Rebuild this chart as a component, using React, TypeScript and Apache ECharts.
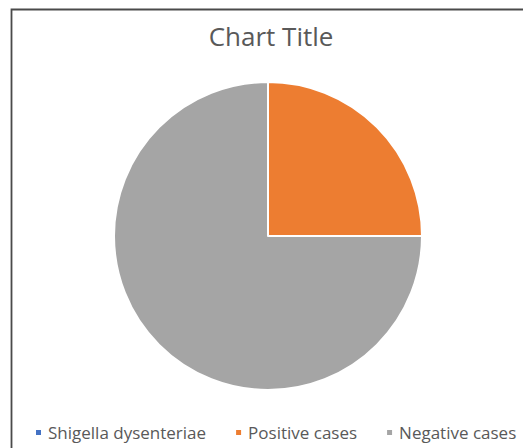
import React, { useEffect, useRef } from "react";
import * as echarts from "echarts";

const categories = ["Shigella dysenteriae", "Positive cases", "Negative cases"];
const values = [0, 25, 75];
const colors = ["#4472C4", "#ED7D31", "#A5A5A5"];

export default function App() {
  const ref = useRef<HTMLDivElement>(null);
  useEffect(() => {
    if (!ref.current) return;
    const chart = echarts.init(ref.current, null, { renderer: "svg" });
    chart.setOption({
      animation: false,
      backgroundColor: "#ffffff",
      title: {
        text: "Chart Title",
        left: 266,
        textAlign: "center",
        top: 18,
        textStyle: { fontFamily: "Open Sans", fontSize: 26, fontWeight: "normal", color: "#595959" },
      },
      legend: {
        data: categories,
        top: 424,
        left: 34,
        width: 489,
        padding: 0,
        icon: "rect",
        itemWidth: 7,
        itemHeight: 7,
        itemGap: 28,
        textStyle: { fontFamily: "Open Sans", fontSize: 17, color: "#595959", padding: [0, 0, 0, 1] },
      },
      graphic: [
        {
          type: "rect",
          shape: { x: 11.5, y: 9.5, width: 600, height: 600 },
          style: { fill: "none", stroke: "#4a4a4a", lineWidth: 1.8 },
          silent: true,
        },
      ],
      series: [
        {
          type: "pie",
          center: [268, 236],
          radius: 154,
          startAngle: 90,
          clockwise: true,
          label: { show: false },
          labelLine: { show: false },
          itemStyle: { borderColor: "#ffffff", borderWidth: 2 },
          data: categories.map((c, i) => ({ name: c, value: values[i], itemStyle: { color: colors[i] } })),
        },
      ],
    });
    return () => chart.dispose();
  }, []);
  return <div ref={ref} style={{ position: "fixed", left: 0, top: 0, width: 523, height: 448 }} />;
}
